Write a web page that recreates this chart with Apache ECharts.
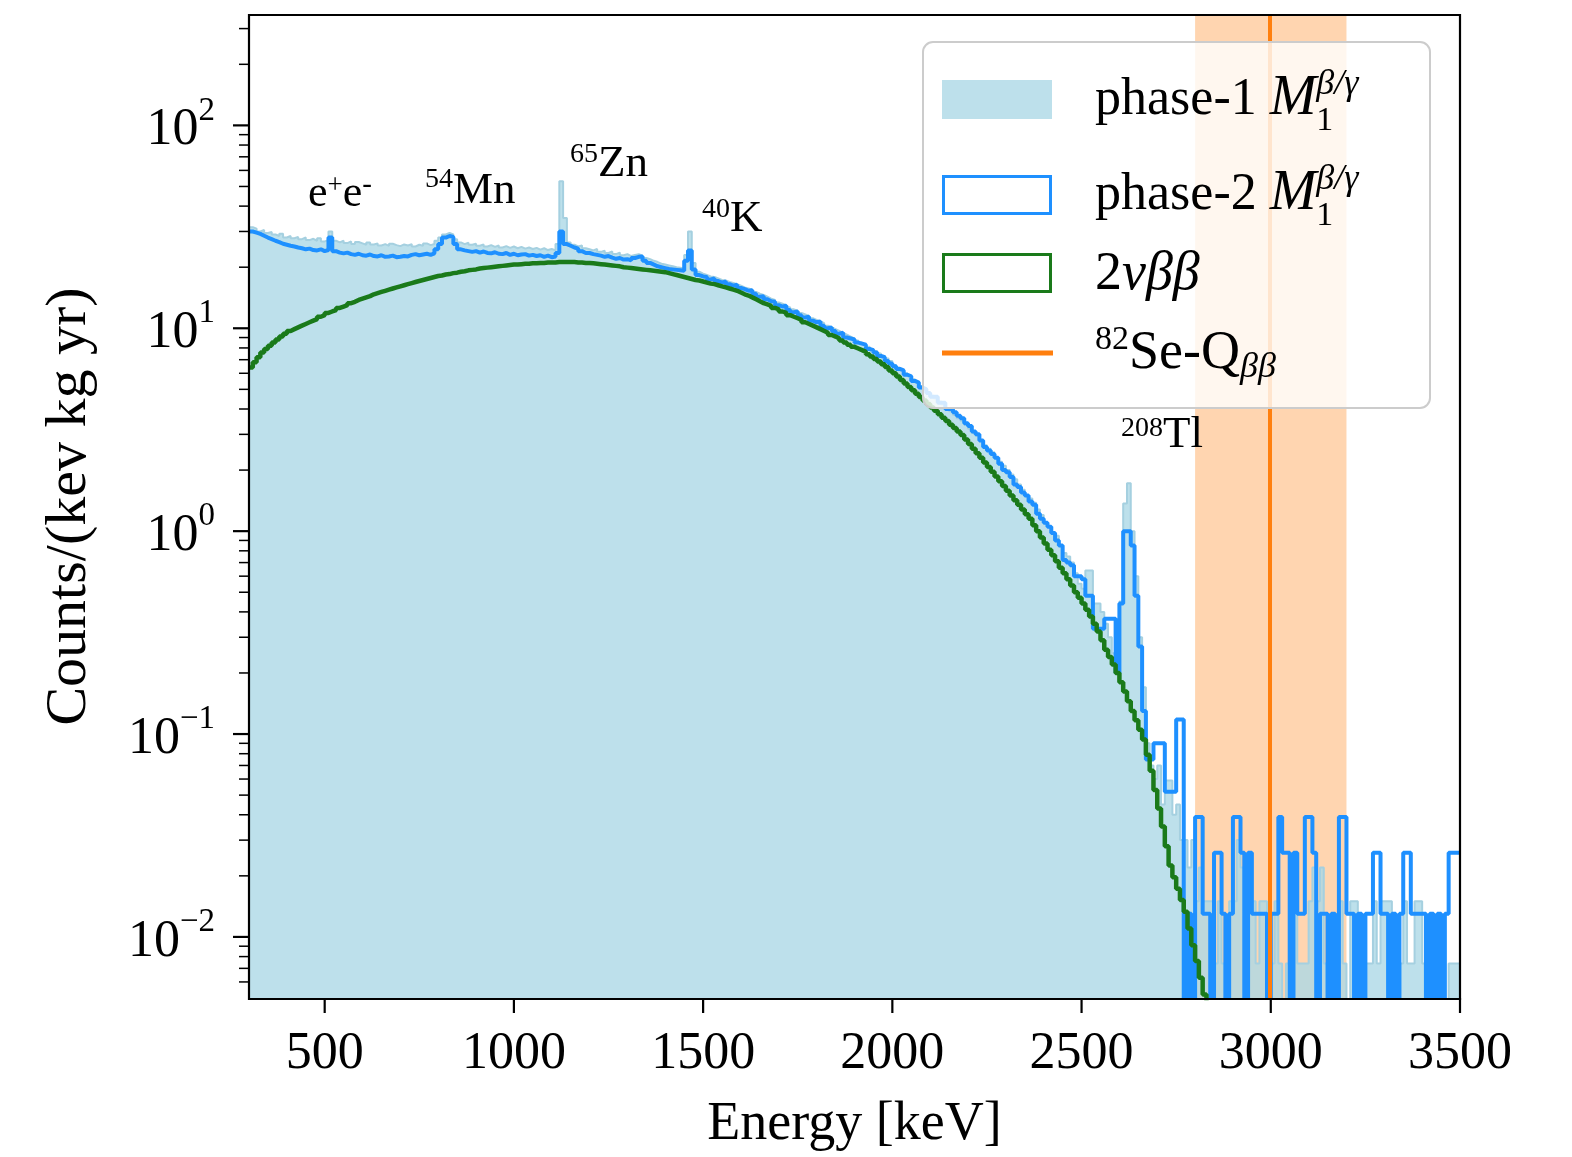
<!DOCTYPE html>
<html>
<head>
<meta charset="utf-8">
<script src="https://cdn.jsdelivr.net/npm/echarts@6/dist/echarts.min.js"></script>
<style>
html,body{margin:0;padding:0;background:#fff;}
#main{width:1572px;height:1157px;}
</style>
</head>
<body>
<div id="main"></div>
<script>
// empty bin: sits below the axis minimum and gets clipped
var Z = 1e-4;
var binStart = 300, binWidth = 10;

// phase-1 M1 beta/gamma, counts/(keV kg yr), one value per 10 keV bin from 300 keV
var phase1 = [
  31.5, 31.0, 30.0, 30.5, 29.5, 29.8, 29.0, 28.5, 29.2, 28.0,
  28.5, 27.8, 28.2, 27.5, 28.0, 27.2, 27.6, 27.0, 27.8, 26.8,
  27.2, 30.0, 27.0, 26.5, 27.0, 26.3, 26.8, 26.0, 26.6, 26.2,
  25.8, 26.5, 25.9, 26.2, 25.6, 26.0, 25.5, 26.1, 25.7, 25.4,
  25.9, 25.6, 26.0, 25.3, 25.8, 25.5, 26.2, 25.7, 26.0, 27.0,
  28.0, 29.0, 29.5, 29.0, 27.5, 26.5, 26.0, 26.4, 25.8, 26.1,
  25.5, 25.9, 25.3, 25.7, 25.2, 25.6, 25.0, 25.4, 24.9, 25.3,
  24.8, 25.2, 24.7, 25.0, 24.6, 24.9, 24.4, 24.8, 24.3, 24.6,
  24.2, 26.0, 53.0, 35.0, 26.5, 25.8, 25.3, 25.6, 24.8, 24.5,
  24.2, 24.6, 23.8, 24.1, 23.5, 23.9, 23.2, 23.6, 22.9, 23.2,
  22.7, 23.0, 23.2, 22.8, 22.2, 21.9, 21.5, 21.2, 20.8, 20.6,
  20.4, 20.2, 20.0, 19.9, 19.7, 23.0, 30.0, 21.0, 19.0, 18.6,
  18.3, 18.0, 17.9, 17.6, 17.3, 17.2, 16.9, 16.7, 16.5, 16.2,
  15.9, 15.7, 15.5, 15.1, 14.8, 14.6, 14.3, 14.0, 13.8, 13.4,
  13.2, 13.0, 12.7, 12.4, 12.2, 11.9, 11.7, 11.5, 11.2, 11.0,
  10.8, 10.6, 10.3, 10.1, 9.9, 9.7, 9.5, 9.3, 9.1, 8.9,
  8.7, 8.5, 8.3, 8.1, 7.9, 7.7, 7.5, 7.3, 7.1, 6.9,
  6.6, 6.4, 6.2, 6.0, 5.8, 5.6, 5.4, 5.2, 5.0, 4.8,
  4.65, 4.5, 4.35, 4.2, 4.05, 3.9, 3.75, 3.6, 3.5, 3.35,
  3.2, 3.05, 2.95, 2.8, 2.65, 2.55, 2.45, 2.3, 2.2, 2.1,
  2.0, 1.9, 1.8, 1.7, 1.6, 1.5, 1.45, 1.38, 1.28, 1.2,
  1.1, 1.05, 0.98, 0.95, 0.85, 0.78, 0.75, 0.7, 0.62, 0.55,
  0.52, 0.64, 0.64, 0.44, 0.44, 0.4, 0.35, 0.3, 0.25, 0.2,
  0.45, 1.37, 1.72, 1.0, 0.6, 0.3, 0.17, 0.09, 0.07, 0.06,
  0.07, 0.045, 0.059, 0.059, 0.04, 0.045, 0.03, 0.03, 0.022, 0.03,
  0.015, 0.022, 0.015, 0.015, 0.015, 0.0074, 0.015, 0.0074, 0.0074, 0.015,
  0.015, 0.03, 0.022, 0.0074, 0.015, 0.015, 0.0074, 0.015, 0.015, 0.0074,
  0.0074, 0.015, 0.0074, Z, 0.0074, 0.0074, 0.015, 0.0074, 0.0074, 0.0074,
  0.015, 0.022, 0.015, 0.022, 0.0074, 0.0074, 0.0074, 0.0074, 0.015, 0.0074,
  Z, 0.015, 0.015, 0.0074, Z, 0.0074, 0.0074, 0.015, 0.0074, 0.015,
  0.015, 0.015, 0.0074, 0.0074, 0.0074, 0.015, 0.0074, 0.0074, 0.015, 0.015,
  0.0074, 0.0074, 0.0074, 0.0074, Z, 0.0074, Z, 0.0074, 0.0074, 0.0074
];

// phase-2 M1 beta/gamma, same bins
var phase2 = [
  30.0, 29.6, 29.2, 28.6, 28.0, 27.5, 27.0, 26.6, 26.1, 25.8,
  25.5, 25.3, 25.0, 24.8, 24.5, 24.7, 24.3, 24.2, 24.5, 24.0,
  24.3, 28.0, 24.0, 23.6, 23.4, 23.6, 23.2, 23.0, 23.3, 22.9,
  22.8, 23.1, 22.7, 22.6, 22.9, 22.5, 22.6, 22.8, 22.4, 22.5,
  22.7, 22.6, 23.0, 23.2, 22.9, 23.1, 23.3, 23.0, 23.4, 24.5,
  26.0, 28.0, 28.5, 28.2, 26.0, 24.5, 24.2, 24.0, 23.8, 24.0,
  23.6, 23.9, 23.5, 23.4, 23.7, 23.3, 23.2, 23.5, 23.0, 23.3,
  22.9, 23.1, 23.2, 22.8, 23.0, 22.7, 22.9, 22.5, 22.8, 22.4,
  22.6, 23.5, 30.0, 26.0, 25.5, 25.0, 24.7, 24.0, 23.5, 23.5,
  23.2, 23.0, 22.8, 22.5, 22.7, 22.3, 22.0, 22.2, 21.8, 21.9,
  21.6, 22.2, 22.5, 22.6, 21.5, 21.0, 20.6, 20.2, 20.0, 19.8,
  19.6, 19.5, 19.4, 19.3, 19.2, 21.5, 24.2, 19.5, 18.3, 18.0,
  17.9, 17.4, 17.6, 17.1, 16.8, 17.0, 16.5, 16.2, 16.4, 15.8,
  15.6, 15.3, 15.4, 14.8, 14.3, 14.4, 13.9, 13.6, 13.5, 13.0,
  12.8, 12.9, 12.3, 12.0, 12.1, 11.6, 11.3, 11.4, 10.9, 10.7,
  10.8, 10.3, 10.0, 10.1, 9.7, 9.4, 9.5, 9.0, 8.9, 8.8,
  8.5, 8.4, 8.3, 7.9, 7.8, 7.6, 7.3, 7.2, 6.9, 6.7,
  6.5, 6.3, 6.2, 5.9, 5.8, 5.5, 5.4, 5.1, 5.0, 4.8,
  4.6, 4.6, 4.3, 4.3, 4.0, 4.0, 3.85, 3.7, 3.6, 3.4,
  3.3, 3.1, 3.0, 2.8, 2.6, 2.5, 2.4, 2.3, 2.15, 2.0,
  1.95, 1.85, 1.7, 1.65, 1.55, 1.5, 1.4, 1.35, 1.22, 1.15,
  1.1, 1.05, 0.98, 0.9, 0.85, 0.72, 0.7, 0.68, 0.6, 0.6,
  0.58, 0.48, 0.48, 0.33, 0.33, 0.33, 0.37, 0.37, 0.37, 0.2,
  0.44, 1.0, 1.0, 0.85, 0.48, 0.27, 0.13, 0.075, 0.075, 0.09,
  0.09, 0.09, 0.052, 0.052, 0.052, 0.118, 0.118, Z, 0.013, Z,
  0.039, 0.039, 0.013, 0.013, Z, 0.026, 0.026, 0.013, Z, 0.013,
  0.039, 0.039, 0.026, Z, 0.026, 0.013, 0.013, 0.013, 0.013, Z,
  0.013, 0.013, 0.039, 0.026, 0.026, Z, 0.026, 0.013, 0.013, 0.039,
  0.039, 0.026, Z, 0.013, 0.013, Z, 0.013, Z, 0.039, 0.039,
  0.013, 0.013, Z, 0.013, Z, 0.013, 0.013, 0.026, 0.026, 0.013,
  0.013, Z, 0.013, Z, 0.013, 0.026, 0.026, 0.013, 0.013, 0.013,
  0.013, Z, 0.013, Z, 0.013, Z, 0.013, 0.026, 0.026, 0.026
];

// 2vbb, same bins, runs out below the axis after ~2840 keV
var twoNu = [
  6.4, 6.8, 7.2, 7.6, 7.9, 8.2, 8.5, 8.8, 9.1, 9.4,
  9.7, 9.9, 10.1, 10.3, 10.5, 10.7, 10.9, 11.1, 11.4, 11.6,
  11.9, 12.1, 12.3, 12.6, 12.8, 13.0, 13.3, 13.5, 13.8, 14.0,
  14.2, 14.4, 14.7, 14.9, 15.1, 15.3, 15.5, 15.7, 15.9, 16.1,
  16.3, 16.5, 16.7, 16.9, 17.1, 17.3, 17.5, 17.7, 17.9, 18.1,
  18.2, 18.4, 18.5, 18.7, 18.8, 19.0, 19.1, 19.3, 19.4, 19.5,
  19.7, 19.8, 19.9, 20.0, 20.1, 20.2, 20.3, 20.4, 20.5, 20.6,
  20.6, 20.7, 20.8, 20.8, 20.9, 20.9, 21.0, 21.0, 21.1, 21.1,
  21.1, 21.2, 21.2, 21.2, 21.2, 21.2, 21.1, 21.1, 21.0, 21.0,
  20.9, 20.8, 20.7, 20.6, 20.5, 20.4, 20.3, 20.2, 20.0, 19.9,
  19.8, 19.7, 19.6, 19.5, 19.4, 19.3, 19.2, 19.1, 19.0, 18.9,
  18.7, 18.5, 18.3, 18.1, 17.9, 17.7, 17.5, 17.3, 17.2, 17.0,
  16.8, 16.6, 16.5, 16.3, 16.1, 15.9, 15.7, 15.5, 15.3, 15.0,
  14.7, 14.5, 14.2, 13.9, 13.6, 13.3, 13.1, 12.9, 12.6, 12.4,
  12.1, 11.9, 11.6, 11.4, 11.2, 11.0, 10.7, 10.5, 10.3, 10.1,
  9.9, 9.7, 9.5, 9.27, 9.1, 8.9, 8.7, 8.5, 8.3, 8.1,
  7.95, 7.8, 7.65, 7.45, 7.25, 7.05, 6.85, 6.65, 6.45, 6.2,
  6.0, 5.78, 5.56, 5.35, 5.14, 4.95, 4.76, 4.58, 4.40, 4.23,
  4.07, 3.92, 3.77, 3.62, 3.49, 3.35, 3.22, 3.10, 2.98, 2.83,
  2.69, 2.55, 2.42, 2.30, 2.18, 2.07, 1.96, 1.86, 1.76, 1.67,
  1.58, 1.50, 1.42, 1.35, 1.28, 1.21, 1.15, 1.07, 1.00, 0.93,
  0.87, 0.81, 0.76, 0.71, 0.66, 0.62, 0.58, 0.54, 0.50, 0.47,
  0.44, 0.41, 0.38, 0.35, 0.32, 0.29, 0.26, 0.24, 0.22, 0.20,
  0.18, 0.162, 0.145, 0.130, 0.117, 0.105, 0.094, 0.079, 0.066, 0.053,
  0.043, 0.035, 0.028, 0.0225, 0.0197, 0.0173, 0.0152, 0.0133, 0.011, 0.0091,
  0.0076, 0.0063, 0.0052, 0.0043
];

var xTicks = [500, 1000, 1500, 2000, 2500, 3000, 3500];
var yMajor = [0.01, 0.1, 1, 10, 100];
var yMinorSteps = [2, 3, 4, 5, 6, 7, 8, 9];
var roiBand = [2800, 3200];
var qValue = 2998;

// peak labels, anchored at left/baseline in data coordinates [keV, counts]
var notes = [
  {at: [456, 38.6],  parts: [{t: 'e', fs: 44}, {t: '+', fs: 27, dy: -14}, {t: 'e', fs: 44}, {t: '-', fs: 29, dy: -14}]},
  {at: [765, 40.0],  parts: [{t: '54', fs: 28, dy: -17}, {t: 'Mn', fs: 45}]},
  {at: [1148, 54.2], parts: [{t: '65', fs: 28, dy: -15}, {t: 'Zn', fs: 45}]},
  {at: [1497, 29.1], parts: [{t: '40', fs: 28, dy: -15}, {t: 'K', fs: 45}]},
  {at: [2604, 2.49], parts: [{t: '208', fs: 28, dy: -13}, {t: 'Tl', fs: 45}]}
];

var FONT = '"Liberation Serif", "DejaVu Serif", serif';
var C_P1 = 'rgba(173,216,230,0.8)', C_P2 = '#1e90ff', C_2NU = '#1a7a1a', C_Q = '#ff7f0e';

function steps(vals){
  var d = vals.map(function(v, i){ return [binStart + i * binWidth, v]; });
  d.push([binStart + vals.length * binWidth, vals[vals.length - 1]]);
  return d;
}

var tickData = [];
yMajor.forEach(function(v){ tickData.push([300, v, 0]); });
[0.001, 0.01, 0.1, 1, 10, 100].forEach(function(dec){
  yMinorSteps.forEach(function(k){
    var v = k * dec;
    if(v > 0.005 && v < 350) tickData.push([300, v, 1]);
  });
});
xTicks.forEach(function(v){ tickData.push([v, 0.005, 2]); });

var measureCtx = document.createElement('canvas').getContext('2d');
function fontOf(p){ return (p.it ? 'italic ' : '') + p.fs + 'px ' + FONT; }
function mathText(x, base, parts, z){
  var out = [], cx = x;
  parts.forEach(function(p){
    measureCtx.font = fontOf(p);
    var w = measureCtx.measureText(p.t).width;
    out.push({
      type: 'text', x: cx, y: base + (p.dy || 0) - 0.34 * p.fs, z: z, silent: true,
      style: {text: p.t, font: fontOf(p), fill: '#000', align: 'left', verticalAlign: 'middle'}
    });
    if(!p.hold) cx += w;
  });
  return out;
}

var chart = echarts.init(document.getElementById('main'));
var option = {
  animation: false,
  backgroundColor: '#fff',
  grid: {left: 249, top: 15, width: 1211, height: 984},
  xAxis: {
    type: 'value', min: 300, max: 3500,
    axisLine: {show: false}, axisTick: {show: false}, splitLine: {show: false},
    axisLabel: {
      margin: 30, fontSize: 52, fontFamily: FONT, color: '#000',
      formatter: function(v){ return v === 300 ? '' : String(v); }
    },
    name: 'Energy [keV]', nameLocation: 'middle', nameGap: 100,
    nameTextStyle: {fontSize: 54, fontFamily: FONT, color: '#000'}
  },
  yAxis: {
    type: 'log', logBase: 10, min: 0.005, max: 350,
    axisLine: {show: false}, axisTick: {show: false}, splitLine: {show: false},
    axisLabel: {
      margin: 34,
      formatter: function(v){
        var l = Math.log10(v), n = Math.round(l);
        if(Math.abs(l - n) > 1e-6) return '';
        return '{b|10}{s|' + (n < 0 ? '\u2212' + (-n) : n) + '}';
      },
      rich: {
        b: {fontSize: 52, fontFamily: FONT, color: '#000', lineHeight: 62, verticalAlign: 'bottom'},
        s: {fontSize: 33, fontFamily: FONT, color: '#000', lineHeight: 33, verticalAlign: 'top'}
      }
    },
    name: 'Counts/(kev kg yr)', nameLocation: 'middle', nameGap: 150, nameRotate: 90,
    nameTextStyle: {fontSize: 58, fontFamily: FONT, color: '#000'}
  },
  series: [
    {
      name: 'roi', type: 'line', data: [], z: 1, silent: true,
      markArea: {
        silent: true, itemStyle: {color: 'rgba(255,127,14,0.33)'},
        data: [[{xAxis: roiBand[0]}, {xAxis: roiBand[1]}]]
      }
    },
    {
      name: 'phase-1', type: 'line', step: 'end', data: steps(phase1), z: 2,
      showSymbol: false, silent: true,
      lineStyle: {color: 'rgba(165,208,224,1)', width: 2},
      areaStyle: {color: C_P1, origin: 'start', opacity: 1}
    },
    {
      name: 'phase-2', type: 'line', step: 'end', data: steps(phase2), z: 3,
      showSymbol: false, silent: true,
      lineStyle: {color: C_P2, width: 4}
    },
    {
      name: '2vbb', type: 'line', step: 'end', data: steps(twoNu), z: 4,
      showSymbol: false, silent: true,
      lineStyle: {color: C_2NU, width: 4.5}
    },
    {
      name: 'Q', type: 'line', data: [], z: 5, silent: true,
      markLine: {
        silent: true, symbol: ['none', 'none'], label: {show: false},
        lineStyle: {color: C_Q, width: 4, type: 'solid'},
        data: [{xAxis: qValue}]
      }
    },
    {
      name: 'ticks', type: 'custom', data: tickData, z: 20, clip: false, silent: true,
      encode: {x: 0, y: 1},
      renderItem: function(params, api){
        var k = api.value(2), p = api.coord([api.value(0), api.value(1)]);
        var shape = k === 2
          ? {x1: p[0], y1: p[1], x2: p[0], y2: p[1] + 15}
          : {x1: p[0] - (k === 0 ? 16 : 10), y1: p[1], x2: p[0], y2: p[1]};
        return {type: 'line', shape: shape, style: {stroke: '#000', lineWidth: k === 1 ? 1.5 : 2.2}};
      }
    }
  ]
};
chart.setOption(option);

var g = [];
// frame
g.push({type: 'rect', z: 50, silent: true, shape: {x: 249, y: 15, width: 1211, height: 984},
  style: {fill: 'none', stroke: '#000', lineWidth: 2.2}});
// peak labels
notes.forEach(function(n){
  var p = chart.convertToPixel({xAxisIndex: 0, yAxisIndex: 0}, n.at);
  g = g.concat(mathText(p[0], p[1], n.parts, 40));
});
// legend
g.push({type: 'rect', z: 60, silent: true, shape: {x: 923, y: 42, width: 507, height: 366, r: 10},
  style: {fill: 'rgba(255,255,255,0.8)', stroke: '#cccccc', lineWidth: 2}});
g.push({type: 'rect', z: 61, silent: true, shape: {x: 942, y: 80, width: 110, height: 39},
  style: {fill: C_P1}});
g.push({type: 'rect', z: 61, silent: true, shape: {x: 943.5, y: 176.5, width: 107, height: 37},
  style: {fill: 'none', stroke: C_P2, lineWidth: 3}});
g.push({type: 'rect', z: 61, silent: true, shape: {x: 943.5, y: 254.5, width: 107, height: 37},
  style: {fill: 'none', stroke: C_2NU, lineWidth: 3}});
g.push({type: 'line', z: 61, silent: true, shape: {x1: 942, y1: 353, x2: 1053, y2: 353},
  style: {stroke: C_Q, lineWidth: 5}});
g = g.concat(mathText(1095, 118, [
  {t: 'phase-1 ', fs: 52}, {t: 'M', fs: 56, it: true},
  {t: '1', fs: 34, dy: 15, hold: true}, {t: '\u03b2/\u03b3', fs: 36, it: true, dy: -21}
], 62));
g = g.concat(mathText(1095, 213, [
  {t: 'phase-2 ', fs: 52}, {t: 'M', fs: 56, it: true},
  {t: '1', fs: 34, dy: 15, hold: true}, {t: '\u03b2/\u03b3', fs: 36, it: true, dy: -21}
], 62));
g = g.concat(mathText(1095, 293, [
  {t: '2', fs: 54}, {t: '\u03bd\u03b2\u03b2', fs: 54, it: true}
], 62));
g = g.concat(mathText(1095, 372, [
  {t: '82', fs: 34, dy: -20}, {t: 'Se-Q', fs: 54}, {t: '\u03b2\u03b2', fs: 36, it: true, dy: 8}
], 62));
chart.setOption({graphic: g});
</script>
</body>
</html>
